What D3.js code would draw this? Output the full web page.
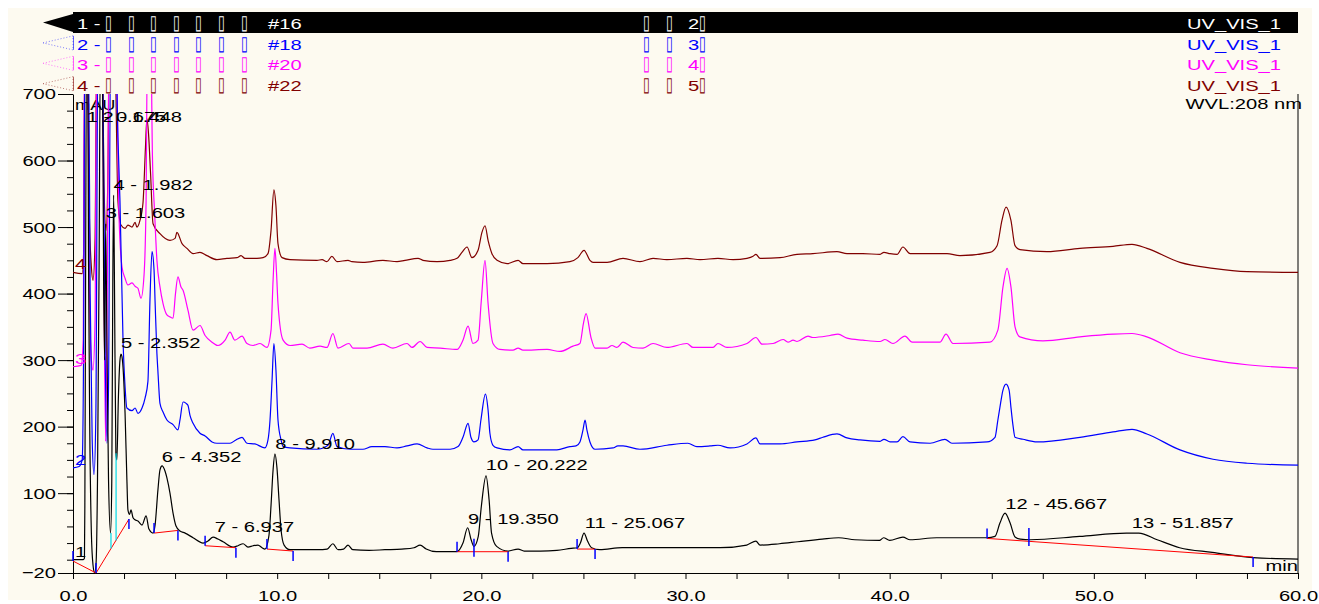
<!DOCTYPE html>
<html>
<head>
<meta charset="utf-8">
<script src="https://cdn.jsdelivr.net/npm/d3@7"></script>
<style>
body { margin: 0; background: #ffffff; }
svg text { font-family: "Liberation Sans", Arial, sans-serif; }
</style>
</head>
<body>
<div class="svg"></div>
<script>
// header rows, one per injection
var channelNums = ["1", "2", "3", "4"];
var sampleNames = ["▯▯▯▯▯▯▯", "▯▯▯▯▯▯▯", "▯▯▯▯▯▯▯", "▯▯▯▯▯▯▯"];
var injections = ["#16", "#18", "#20", "#22"];
var programNums = ["2", "3", "4", "5"];
var detectors = ["UV_VIS_1", "UV_VIS_1", "UV_VIS_1", "UV_VIS_1"];
var traceColors = ["#000000", "#0000ff", "#ff00ff", "#800000"];

var yMajorTicks = [-20, 100, 200, 300, 400, 500, 600, 700];
var xMajorTicks = [0, 10, 20, 30, 40, 50, 60];

// [minutes, mAU]; peaks that run off the top are estimated
var trace1 = [[0,0],[0.5,0],[0.56,2],[0.58,80],[0.62,450],[0.66,760],[0.72,760],[0.76,450],[0.82,200],[0.9,40],[0.98,-8],[1.06,-20],[1.13,-5],[1.2,120],[1.28,450],[1.34,760],[1.44,760],[1.5,420],[1.55,300],[1.6,505],[1.66,330],[1.74,120],[1.84,40],[1.9,120],[1.95,420],[1.99,548],[2.03,420],[2.1,160],[2.15,150],[2.22,240],[2.3,300],[2.35,309],[2.4,305],[2.55,220],[2.64,120],[2.69,75],[2.77,68],[2.84,75],[2.94,63],[3.04,60],[3.18,58],[3.38,52],[3.58,66],[3.72,46],[3.92,40],[4.02,52],[4.16,105],[4.26,135],[4.36,141],[4.51,133],[4.6,123],[4.75,100],[4.9,70],[5.04,51],[5.24,43],[5.49,40],[5.88,33],[6.37,25],[6.61,28],[6.86,34],[7.1,31],[7.35,27],[7.84,19],[8.08,21],[8.33,24],[8.57,19],[8.82,21],[9.06,22],[9.26,18],[9.4,16],[9.6,37],[9.7,82],[9.8,135],[9.89,159],[9.99,138],[10.09,90],[10.19,45],[10.34,22],[10.63,15],[11.12,15],[12.0,15],[12.45,16],[12.73,24],[12.98,15],[13.25,16],[13.47,22],[13.7,15],[14.5,14],[15.28,15],[16.1,16],[16.7,18],[17.0,22],[17.3,16],[17.8,12],[18.8,12],[19.1,25],[19.33,48],[19.5,30],[19.64,20],[19.85,35],[20.0,80],[20.23,126],[20.38,90],[20.5,40],[20.75,20],[21.3,13],[21.8,16],[22.1,13],[22.9,13],[23.7,14],[24.4,17],[24.7,18],[24.85,25],[25.03,40],[25.2,28],[25.4,18],[25.8,15],[26.9,18],[28.4,18],[30.1,18],[31.7,18],[33.0,22],[33.45,28],[33.65,22],[34.6,24],[35.5,27],[36.7,31],[37.5,33],[38.3,30],[39.5,29],[39.7,33],[40.0,29],[40.65,34],[41.0,30],[42.3,33],[43.5,33],[44.77,33],[45.16,35],[45.4,55],[45.65,70],[45.9,55],[46.14,34],[46.4,31],[46.9,30],[49.3,35],[51.6,40],[52.2,40],[53.1,30],[54.2,18],[55.8,11],[57.8,3],[60,1]];
var trace2 = [[0,138],[0.3,140],[0.45,150],[0.52,320],[0.58,760],[0.76,760],[0.84,400],[0.94,180],[1.03,128],[1.12,220],[1.22,760],[1.45,760],[1.56,350],[1.66,175],[1.74,260],[1.84,760],[2.1,760],[2.2,635],[2.3,540],[2.45,330],[2.55,260],[2.64,228],[2.89,224],[3.04,228],[3.18,220],[3.38,228],[3.53,243],[3.67,268],[3.77,390],[3.87,463],[3.97,435],[4.02,388],[4.11,310],[4.16,283],[4.26,235],[4.41,222],[4.6,210],[4.9,203],[5.14,195],[5.24,210],[5.39,237],[5.54,235],[5.63,232],[5.73,217],[5.88,205],[6.22,190],[6.47,186],[6.81,177],[7.05,175],[7.69,175],[7.98,180],[8.28,184],[8.52,175],[8.91,174],[9.4,168],[9.55,180],[9.65,210],[9.75,270],[9.84,325],[9.94,285],[10.04,210],[10.19,180],[10.29,170],[10.63,168],[11.95,166],[12.49,172],[12.73,190],[12.93,170],[13.57,166],[14.2,166],[14.64,170],[15.28,170],[15.87,168],[16.36,171],[16.85,174],[17.34,168],[17.63,166],[18.47,166],[18.86,170],[19.1,184],[19.35,205],[19.49,184],[19.64,177],[19.84,180],[19.98,210],[20.2,249],[20.33,225],[20.42,190],[20.57,172],[20.77,168],[21.4,165],[21.8,170],[22.04,165],[23.7,165],[24.34,170],[24.64,171],[24.83,177],[24.98,195],[25.08,210],[25.17,195],[25.32,177],[25.57,166],[26.45,168],[26.69,171],[26.94,171],[27.77,166],[29.09,172],[30.12,175],[30.56,170],[31.2,171],[31.59,172],[32.18,168],[33.01,174],[33.45,183],[33.65,174],[34.63,174],[35.46,177],[36.34,180],[36.73,184],[37.42,189],[37.91,183],[38.55,180],[39.53,178],[39.72,181],[40.02,177],[40.36,177],[40.65,185],[41.0,177],[41.98,175],[42.71,181],[43.05,175],[44.77,177],[45.16,184],[45.3,210],[45.4,229],[45.55,255],[45.7,264],[45.85,255],[45.94,229],[46.04,202],[46.14,184],[46.53,181],[47.22,177],[49.32,184],[50.94,192],[51.87,196],[52.6,189],[54.22,165],[55.84,151],[57.5,145],[60,142]];
var trace3 = [[0,290],[0.4,292],[0.5,330],[0.56,760],[0.72,760],[0.8,420],[0.9,300],[0.98,285],[1.08,360],[1.16,760],[1.44,760],[1.52,400],[1.6,178],[1.68,420],[1.76,760],[2.12,760],[2.25,520],[2.4,440],[2.55,423],[2.69,413],[2.89,416],[3.04,411],[3.18,408],[3.33,393],[3.48,428],[3.58,540],[3.64,760],[3.82,760],[3.89,607],[4.0,520],[4.11,450],[4.26,410],[4.41,385],[4.6,368],[4.75,365],[4.9,363],[5.02,400],[5.14,425],[5.29,410],[5.39,405],[5.63,375],[5.88,345],[6.22,352],[6.47,337],[6.81,327],[7.1,322],[7.45,330],[7.69,342],[7.93,330],[8.28,336],[8.52,325],[8.82,322],[9.16,325],[9.5,319],[9.7,345],[9.8,420],[9.89,468],[9.97,430],[10.04,385],[10.29,330],[10.63,322],[11.22,324],[11.6,318],[12.1,321],[12.44,319],[12.73,340],[12.98,318],[13.52,325],[13.71,318],[14.4,318],[15.18,324],[15.67,318],[16.36,325],[16.6,319],[17.0,328],[17.34,319],[17.98,318],[18.81,316],[19.1,330],[19.35,351],[19.59,325],[19.84,330],[20.0,390],[20.18,450],[20.33,385],[20.57,325],[20.91,316],[21.55,315],[21.8,318],[22.04,315],[23.22,316],[23.85,313],[24.49,321],[24.83,325],[25.0,355],[25.13,370],[25.37,334],[25.57,318],[26.16,318],[26.4,322],[26.64,319],[26.94,327],[27.43,319],[27.92,318],[28.41,325],[29.09,319],[30.07,325],[30.37,319],[31.35,319],[31.59,325],[32.03,319],[33.01,325],[33.45,334],[33.75,324],[34.29,325],[34.78,331],[35.02,327],[35.27,330],[35.46,328],[36.0,336],[36.24,334],[37.08,337],[37.47,339],[37.91,333],[38.69,330],[39.53,328],[39.77,331],[40.16,325],[40.75,336],[41.1,327],[42.46,327],[42.76,339],[43.1,325],[44.91,327],[45.3,345],[45.55,410],[45.75,438],[45.94,410],[46.14,350],[46.38,335],[47.51,329],[49.32,335],[50.94,339],[51.87,340],[52.6,335],[54.22,311],[55.84,300],[57.5,293],[60,288]];
var trace4 = [[0,432],[0.45,430],[0.52,460],[0.58,760],[0.72,760],[0.8,520],[0.9,440],[0.98,420],[1.08,480],[1.16,760],[1.44,760],[1.52,560],[1.62,495],[1.7,560],[1.78,760],[2.05,760],[2.2,540],[2.35,503],[2.55,498],[2.69,503],[2.89,500],[3.04,507],[3.13,500],[3.28,510],[3.43,537],[3.55,620],[3.62,663],[3.7,640],[3.8,580],[3.92,505],[4.26,490],[4.75,480],[5.0,483],[5.09,492],[5.34,475],[5.58,468],[5.88,460],[6.22,462],[6.56,457],[7.05,451],[7.54,453],[8.03,454],[8.23,457],[8.42,453],[9.01,453],[9.31,454],[9.55,460],[9.7,495],[9.84,556],[9.94,532],[10.04,475],[10.24,454],[10.63,451],[11.95,450],[12.2,451],[12.44,448],[12.68,456],[12.93,448],[13.47,450],[13.66,448],[14.2,447],[15.18,450],[15.87,448],[16.26,450],[16.9,453],[17.14,450],[17.83,448],[18.47,450],[18.81,453],[19.05,462],[19.3,470],[19.54,454],[19.84,465],[20.03,492],[20.18,502],[20.33,480],[20.52,460],[20.77,450],[21.26,445],[21.8,450],[22.04,445],[23.22,445],[24.34,448],[24.73,454],[25.03,465],[25.32,450],[25.47,447],[26.16,447],[26.94,453],[27.77,448],[28.41,453],[29.09,451],[30.07,453],[30.71,451],[31.59,453],[32.33,451],[33.01,453],[33.31,456],[33.45,459],[33.65,453],[34.63,454],[35.46,459],[36.24,460],[37.42,463],[37.91,460],[38.69,460],[39.53,459],[39.72,462],[40.02,460],[40.36,459],[40.65,470],[41.0,460],[42.81,460],[43.44,457],[44.91,462],[45.26,472],[45.5,510],[45.7,530],[45.94,510],[46.14,472],[46.38,466],[47.7,463],[49.32,468],[50.94,471],[51.87,474],[52.6,468],[54.22,447],[55.84,438],[57.5,433],[60,432]];
var traces = [trace1, trace2, trace3, trace4];

// peaks integrated on trace 1: label sits at the given mAU level
var peakIds = [1, 2, 3, 4, 5, 6, 7, 8, 9, 10, 11, 12, 13];
var peakTimes = [0.675, 1.448, 1.603, 1.982, 2.352, 4.352, 6.937, 9.910, 19.350, 20.222, 25.067, 45.667, 51.857];
var peakLabelLevels = [658, 658, 513, 555, 318, 147, 42, 166, 54, 135, 48, 76, 48];

// baselines [t1, v1, t2, v2], delimiters [t, v, side], drop lines [t, vBase, vTop]
var baselines = [[0,-2,1.13,-20],[1.13,-20,2.74,61],[3.97,40,5.14,44],[6.47,21,7.98,18],[9.5,16,10.78,13],[18.81,12,21.31,12],[24.69,16,25.57,16],[44.77,32,57.8,4]];
var delimiters = [[0,-2,"up"],[1.13,-20,"up"],[2.74,61,"down"],[3.97,40,"up"],[5.14,44,"down"],[6.47,21,"up"],[7.98,18,"down"],[9.5,16,"up"],[10.78,13,"down"],[18.81,12,"up"],[19.64,12,"mid"],[21.31,12,"down"],[24.69,16,"up"],[25.57,16,"down"],[44.77,32,"up"],[46.82,28,"mid"],[57.8,4,"down"]];
var dropLines = [[1.86,17,40],[2.11,29,160]];

var width = 1319, height = 604;
var k = 1.3; // the printout stretches its type sideways

var svg = d3.select(".svg").append("svg").attr("width", width).attr("height", height);
svg.append("rect").attr("x", 8).attr("y", 8).attr("width", 1304).attr("height", 592).attr("fill", "#fdfaf0");

var x = d3.scaleLinear().domain([0, 60]).range([73, 1298]);
var y = d3.scaleLinear().domain([-20, 700]).range([573, 94]);

function label(g, px, py, str, size, color, anchor) {
    return g.append("text")
        .attr("transform", "translate(" + px + "," + py + ") scale(" + k + ",1)")
        .attr("font-size", size).attr("fill", color)
        .attr("text-anchor", anchor || "start")
        .text(str);
}

// the missing-glyph boxes of the original print, tall and narrow
function box(g, px, py, str, color) {
    return g.append("text")
        .attr("transform", "translate(" + px + "," + py + ") scale(0.62,1)")
        .attr("font-family", "DejaVu Sans").attr("font-size", 20).attr("fill", color)
        .text(str);
}

function stretch(sel) {
    sel.each(function() {
        var t = d3.select(this);
        var tx = +t.attr("x") || 0, ty = +t.attr("y") || 0;
        t.attr("x", null).attr("y", null)
            .attr("transform", "translate(" + tx + "," + ty + ") scale(" + k + ",1)");
    });
}

// header
var header = svg.append("g");
header.append("rect").attr("x", 73).attr("y", 12).attr("width", 1225).attr("height", 21).attr("fill", "#000");
channelNums.forEach(function(n, i) {
    var base = 29 + i * 20.6;
    var tip = 22.5 + i * 20.4;
    var col = i == 0 ? "#ffffff" : traceColors[i];
    if (i == 0) {
        header.append("polygon").attr("points", "43," + tip + " 73,14 73,32").attr("fill", "#000");
    } else {
        header.append("polygon").attr("points", "43," + tip + " 73," + (tip - 7) + " 73," + (tip + 7))
            .attr("fill", "none").attr("stroke", traceColors[i]).attr("stroke-opacity", 0.5)
            .attr("stroke-dasharray", "1,2");
        header.append("line").attr("x1", 73.5).attr("x2", 73.5).attr("y1", tip - 7).attr("y2", tip + 7)
            .attr("stroke", traceColors[i]).attr("stroke-opacity", 0.6);
    }
    label(header, 77, base, n + " -", 15.5, col);
    sampleNames[i].split("").forEach(function(c, j) {
        box(header, 105 + j * 22.6, base, c, col);
    });
    label(header, 268, base, injections[i], 15.5, col);
    box(header, 643, base, "▯", col);
    box(header, 666, base, "▯", col);
    label(header, 688, base, programNums[i], 15.5, col);
    box(header, 699, base, "▯", col);
    label(header, 1281, base, detectors[i], 15.5, col, "end");
});
label(svg, 1302, 109, "WVL:208 nm", 15.5, "#000", "end");

// axes
svg.append("g").attr("transform", "translate(73,0)")
    .call(d3.axisLeft(y).tickValues(d3.range(0, 701, 25)).tickSize(6).tickFormat(""))
    .call(function(g) { g.select(".domain").remove(); });
var yAxis = svg.append("g").attr("transform", "translate(73,0)")
    .call(d3.axisLeft(y).tickValues(yMajorTicks).tickSize(15).tickSizeOuter(0).tickPadding(2).tickFormat(d3.format("d")));
yAxis.attr("font-size", 15.5).attr("font-family", null).attr("color", "#000");
stretch(yAxis.selectAll("text"));

var xAxis = svg.append("g").attr("transform", "translate(0,573)")
    .call(d3.axisBottom(x).tickValues(d3.range(0, 60.1, 2.5)).tickSize(6).tickSizeOuter(0)
        .tickPadding(11).tickFormat(function(d) { return xMajorTicks.indexOf(d) >= 0 ? d3.format(".1f")(d) : ""; }));
xAxis.attr("font-size", 15.5).attr("font-family", null).attr("color", "#000");
stretch(xAxis.selectAll("text"));

svg.append("line").attr("x1", 1298).attr("x2", 1298).attr("y1", 94).attr("y2", 573).attr("stroke", "#000");
label(svg, 75, 110, "mAU", 14, "#000");
label(svg, 1298, 571, "min", 15.5, "#000", "end");

// traces
svg.append("clipPath").attr("id", "plot").append("rect")
    .attr("x", 73).attr("y", 94).attr("width", 1225).attr("height", 490);
var line = d3.line().x(function(d) { return x(d[0]); }).y(function(d) { return y(d[1]); }).curve(d3.curveMonotoneX);
var plot = svg.append("g").attr("clip-path", "url(#plot)");
for (var i = traces.length - 1; i >= 0; i--) {
    plot.append("path").datum(traces[i]).attr("d", line)
        .attr("fill", "none").attr("stroke", traceColors[i]).attr("stroke-width", 1.2).attr("stroke-linejoin", "round");
    label(svg, 75, y(traces[i][0][1]) - 3, channelNums[i], 15.5, traceColors[i]);
}

// integration marks
baselines.forEach(function(b) {
    svg.append("line").attr("x1", x(b[0])).attr("y1", y(b[1])).attr("x2", x(b[2])).attr("y2", y(b[3]))
        .attr("stroke", "#ff0000").attr("stroke-width", 1);
});
dropLines.forEach(function(d) {
    svg.append("line").attr("x1", x(d[0])).attr("x2", x(d[0])).attr("y1", y(d[1])).attr("y2", y(d[2]))
        .attr("stroke", "#00d8e8").attr("stroke-width", 1.2);
});
delimiters.forEach(function(d) {
    var py = y(d[1]);
    var top = d[2] == "up" ? py - 10 : d[2] == "mid" ? py - 13 : py;
    var bot = d[2] == "up" ? py : d[2] == "mid" ? py + 5 : py + 10;
    svg.append("line").attr("x1", x(d[0])).attr("x2", x(d[0])).attr("y1", top).attr("y2", bot)
        .attr("stroke", "#0000ff").attr("stroke-width", 1.5);
});

// peak labels
peakIds.forEach(function(id, i) {
    label(svg, x(peakTimes[i]), y(peakLabelLevels[i]), id + " - " + peakTimes[i].toFixed(3), 15.5, "#000");
});
</script>
</body>
</html>
